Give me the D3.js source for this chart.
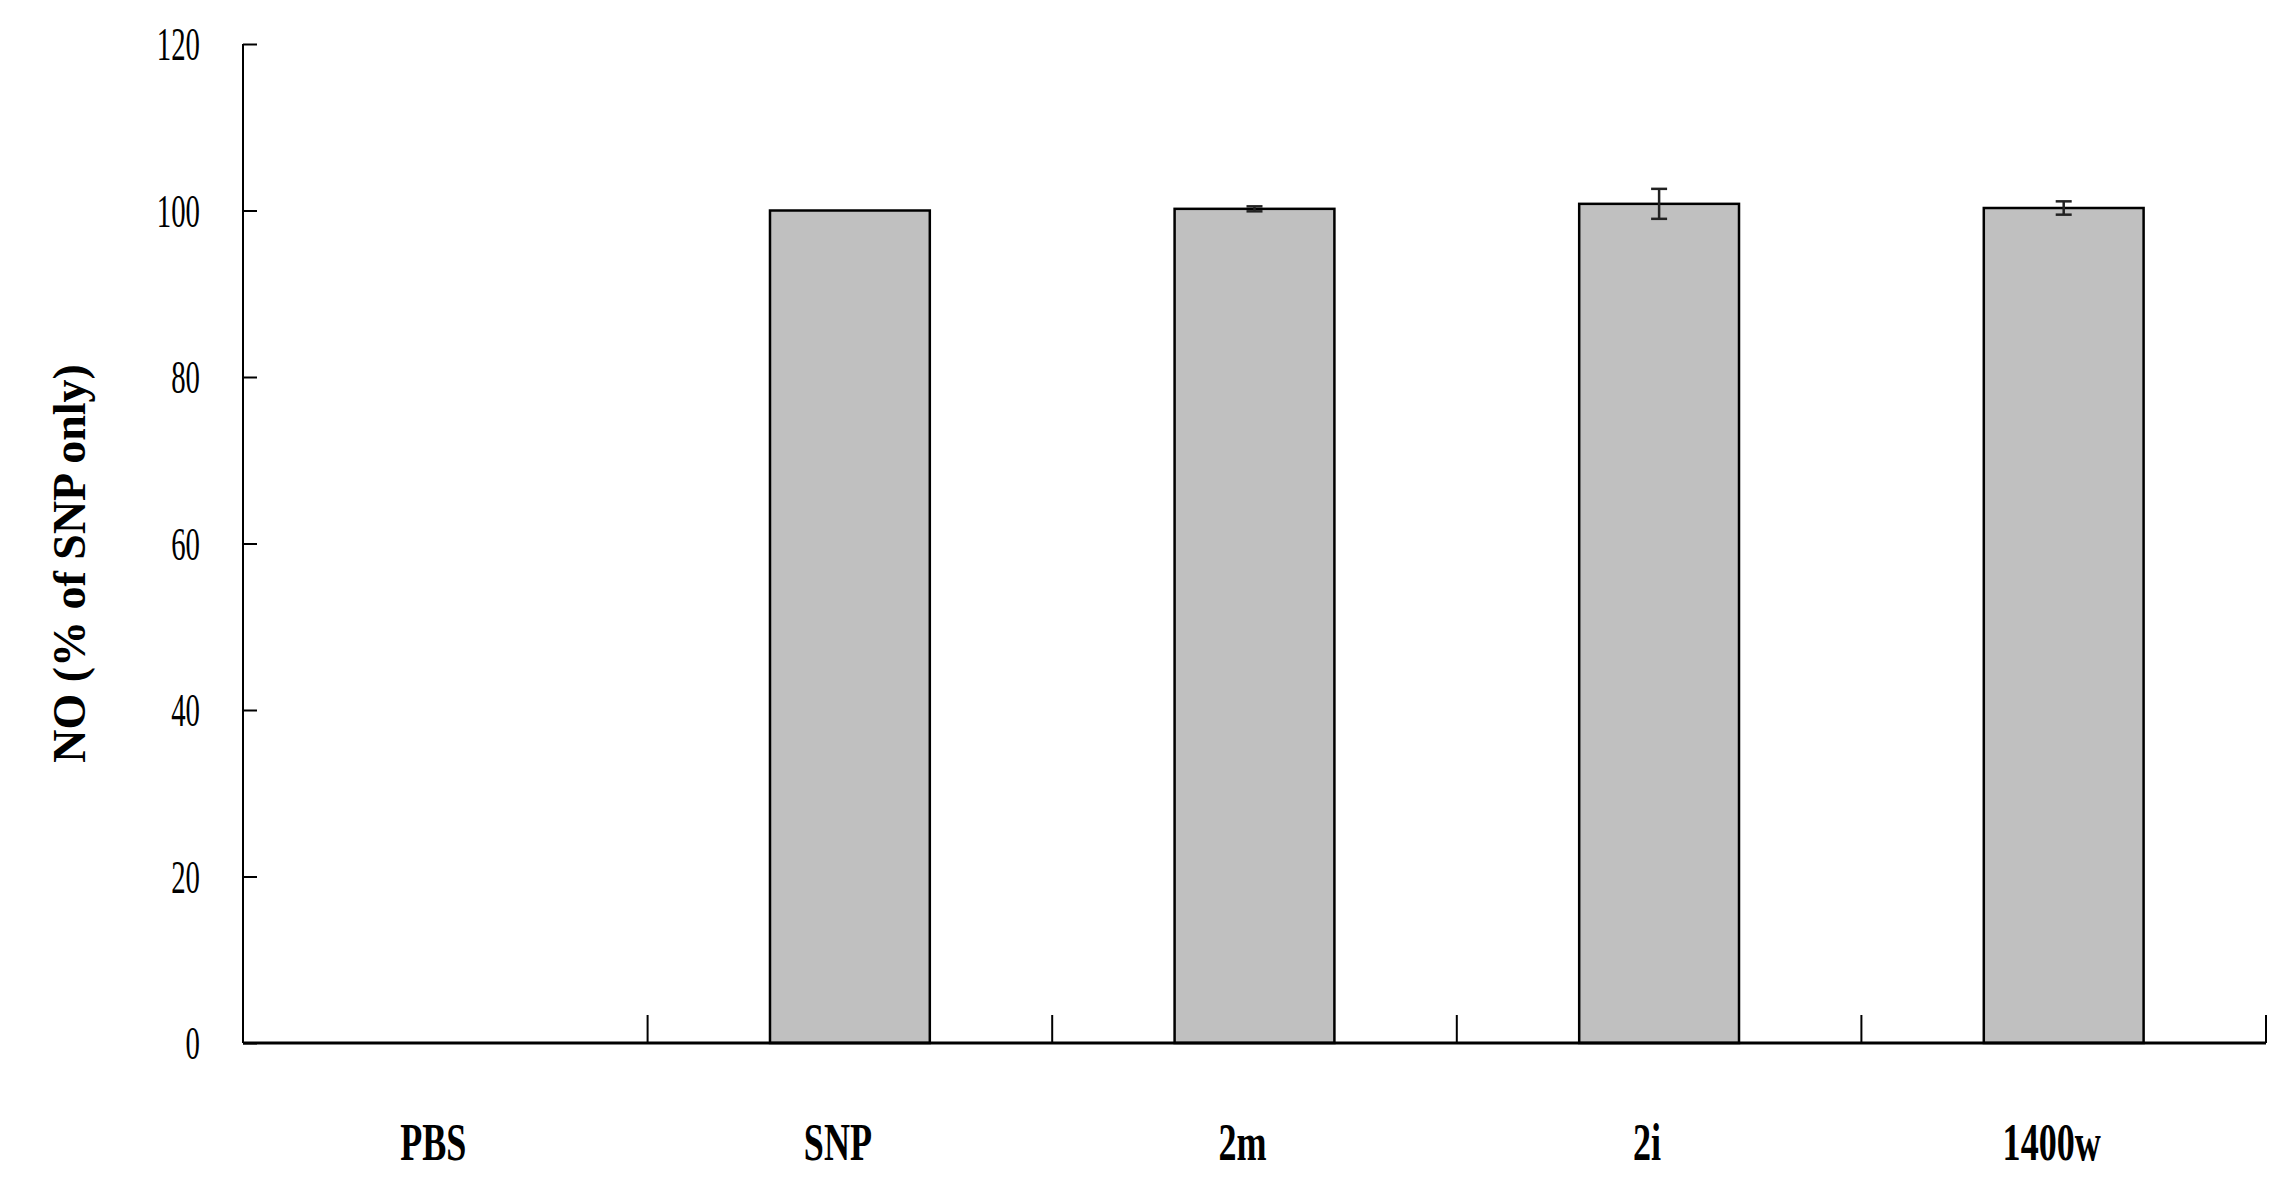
<!DOCTYPE html>
<html>
<head>
<meta charset="utf-8">
<script src="https://cdn.jsdelivr.net/npm/d3@7"></script>
<style>
  body { margin: 0; background: #fff; }
  text { font-family: "Liberation Serif", "Times New Roman", serif; }
</style>
</head>
<body>
<div id="chart"></div>
<script>
const categories = ['PBS', 'SNP', '2m', '2i', '1400w']
const values = [0, 100, 100.2, 100.8, 100.3]
const errors = [0, 0, 0.3, 1.8, 0.8]
const yTicks = [0, 20, 40, 60, 80, 100, 120]

const width = 2294, height = 1189
const plotLeft = 243, plotRight = 2266, plotTop = 44, plotBottom = 1043

let svg = d3.select('#chart').append('svg')
  .attr('width', width).attr('height', height)

let x = d3.scaleBand().domain(categories).range([plotLeft, plotRight]).paddingInner(0).paddingOuter(0)
let y = d3.scaleLinear().domain([0, 120]).range([plotBottom, plotTop])
let barW = x.bandwidth() * 0.395

let data = categories.map((c, i) => ({ c: c, v: values[i], e: errors[i] }))

// bars
svg.selectAll('rect.bar')
  .data(data.filter(d => d.v > 0))
  .enter().append('rect')
  .attr('class', 'bar')
  .attr('x', d => x(d.c) + x.bandwidth() / 2 - barW / 2)
  .attr('y', d => y(d.v))
  .attr('width', barW)
  .attr('height', d => y(0) - y(d.v))
  .attr('fill', '#c0c0c0')
  .attr('stroke', '#000')
  .attr('stroke-width', 2.5)

// error bars
let eb = svg.selectAll('g.err')
  .data(data.filter(d => d.e > 0))
  .enter().append('g')
  .attr('stroke', '#222').attr('stroke-width', 2.5)
eb.append('line')
  .attr('x1', d => x(d.c) + x.bandwidth() / 2).attr('x2', d => x(d.c) + x.bandwidth() / 2)
  .attr('y1', d => y(d.v + d.e)).attr('y2', d => y(d.v - d.e))
eb.append('line')
  .attr('x1', d => x(d.c) + x.bandwidth() / 2 - 8).attr('x2', d => x(d.c) + x.bandwidth() / 2 + 8)
  .attr('y1', d => y(d.v + d.e)).attr('y2', d => y(d.v + d.e))
eb.append('line')
  .attr('x1', d => x(d.c) + x.bandwidth() / 2 - 8).attr('x2', d => x(d.c) + x.bandwidth() / 2 + 8)
  .attr('y1', d => y(d.v - d.e)).attr('y2', d => y(d.v - d.e))

// y axis
let yAxis = d3.axisRight(y).tickValues(yTicks).tickSize(14).tickFormat('')
let ya = svg.append('g').attr('transform', `translate(${plotLeft},0)`).call(yAxis)
ya.selectAll('path, line').attr('stroke', '#000').attr('stroke-width', 2)
ya.select('.domain').attr('d', `M0,${plotTop}V${plotBottom}`)

svg.selectAll('text.ytick')
  .data(yTicks).enter().append('text')
  .attr('class', 'ytick')
  .attr('text-anchor', 'end')
  .attr('transform', d => `translate(200,${y(d) + 16}) scale(0.72,1.15)`)
  .attr('font-size', 40)
  .text(d => d)

// x axis line with boundary ticks
let boundaries = categories.slice(1).map(c => x(c)).concat([plotRight])
svg.append('line')
  .attr('x1', plotLeft).attr('x2', plotRight).attr('y1', plotBottom).attr('y2', plotBottom)
  .attr('stroke', '#000').attr('stroke-width', 3)
svg.selectAll('line.xt')
  .data(boundaries).enter().append('line')
  .attr('x1', d => d).attr('x2', d => d)
  .attr('y1', plotBottom).attr('y2', plotBottom - 28)
  .attr('stroke', '#000').attr('stroke-width', 2)

svg.selectAll('text.xlab')
  .data(categories).enter().append('text')
  .attr('class', 'xlab')
  .attr('text-anchor', 'middle')
  .attr('font-weight', 'bold')
  .attr('font-size', 44)
  .attr('transform', c => `translate(${x(c) + x.bandwidth() / 2 - 12},${1160}) scale(0.82,1.2)`)
  .text(c => c)

svg.append('text')
  .attr('text-anchor', 'middle')
  .attr('font-weight', 'bold')
  .attr('font-size', 46)
  .attr('transform', `translate(85,${(plotTop + plotBottom) / 2 + 20}) rotate(-90)`)
  .text('NO (% of SNP only)')
</script>
</body>
</html>
